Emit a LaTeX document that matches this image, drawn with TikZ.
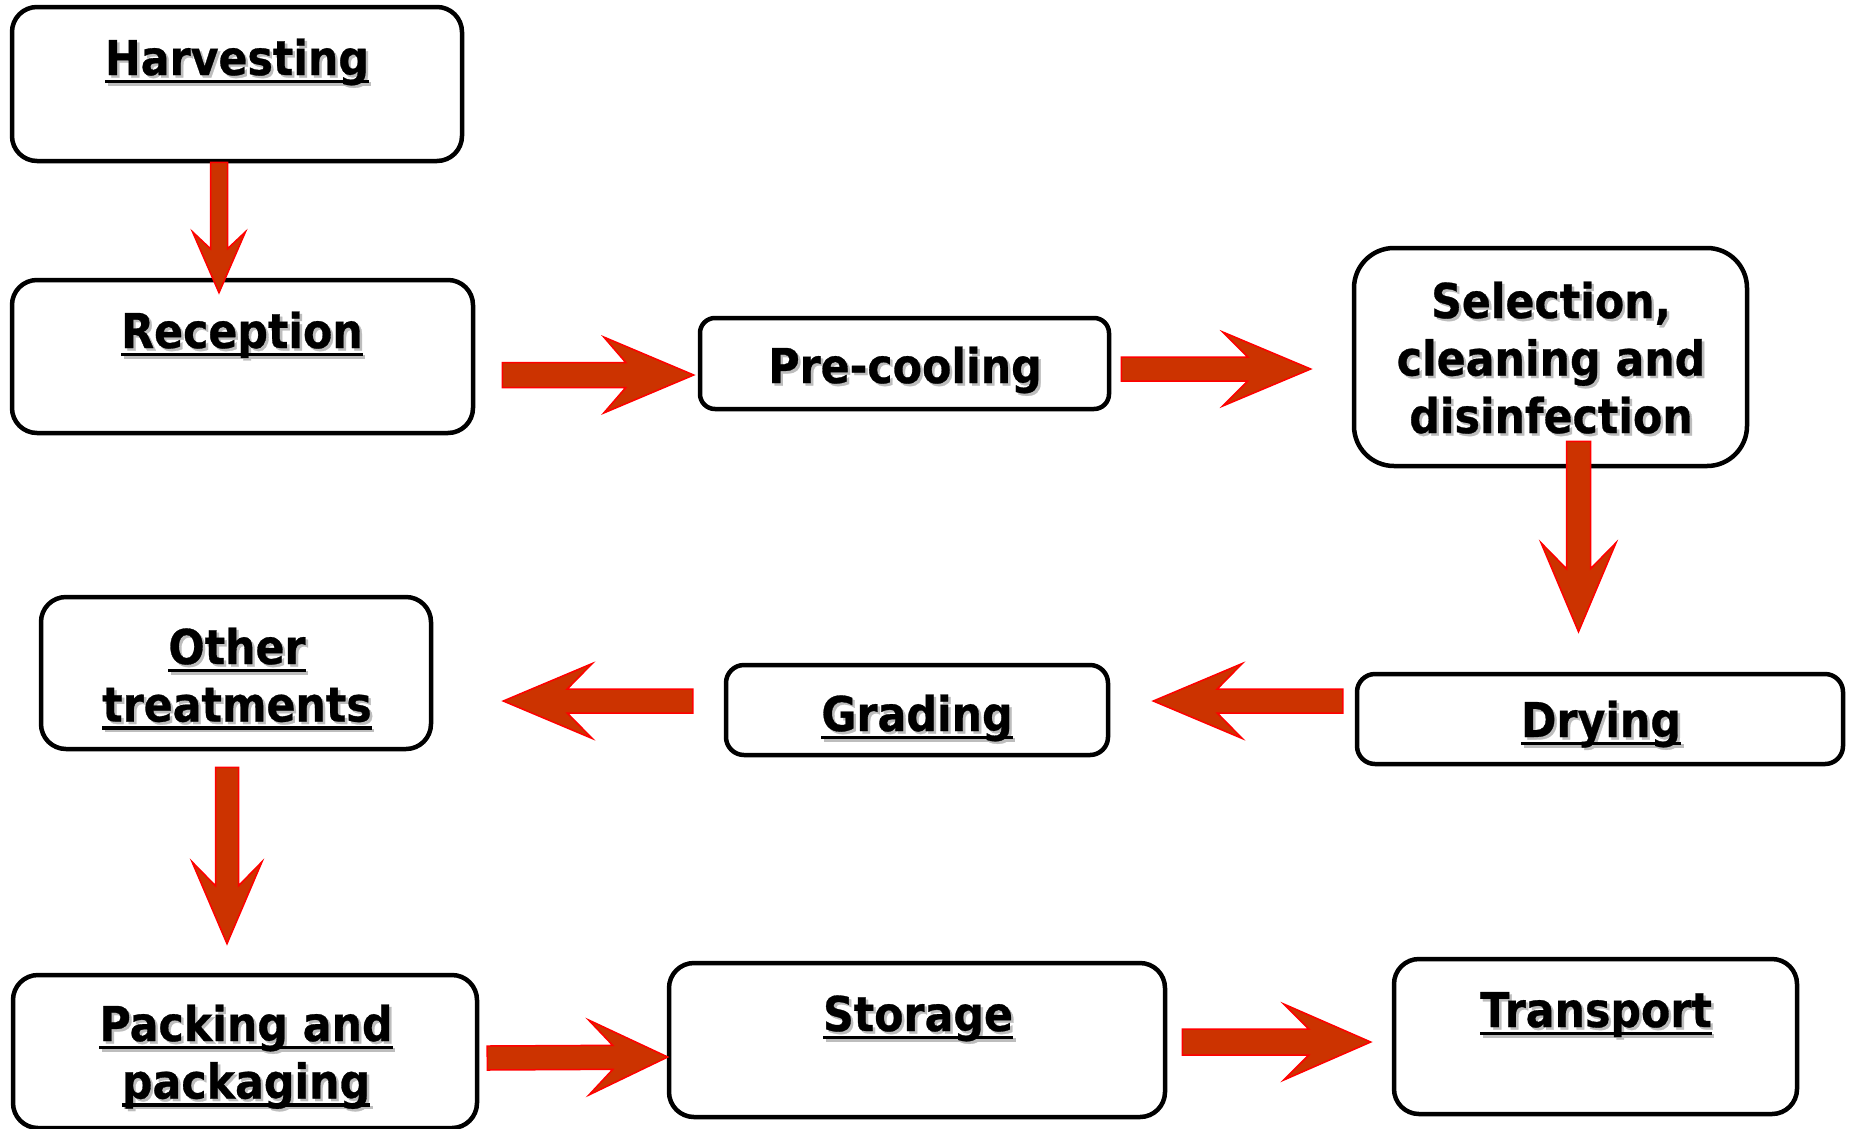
\documentclass[tikz,border=0pt]{standalone}
\usepackage{fontspec}
\newfontfamily\boxfont{DejaVu Sans}[FakeStretch=0.89,FakeBold=0.6]
\usetikzlibrary{calc}
\definecolor{arrowfill}{HTML}{CC3300}
\definecolor{arrowline}{HTML}{FF0000}
\definecolor{shadowgray}{HTML}{BDBDBD}
\newcommand\ulx[1]{\setbox0\hbox{#1}\rlap{\rule[-8pt]{\wd0}{3.5pt}}\box0}
\newcommand\lstrut{\rule[-13pt]{0pt}{51pt}}
\tikzset{
  box/.style={draw=black, line width=4.5pt, fill=white, inner sep=0pt},
  txt/.style={font=\boxfont\bfseries\fontsize{48}{57.5}\selectfont, inner sep=0pt, align=center, text=black},
  blockarrow/.style={fill=arrowfill, draw=arrowline, line width=1.5pt, line join=miter},
}
% #1 name, #2 anchor, #3 position, #4 text
\newcommand\stxt[4]{%
  \coordinate (tmp) at (#3);
  \node[txt, anchor=#2, text=shadowgray] at ([xshift=2.5pt,yshift=-2.5pt]tmp) {#4};
  \node[txt, anchor=#2] (#1) at (tmp) {#4};}
% #1 start, #2 tip, #3 shaft half width, #4 head half width, #5 tip-to-barb, #6 tip-to-notch
\newcommand\barrow[6]{%
  \coordinate (bS) at (#1);
  \coordinate (bE) at (#2);
  \coordinate (bB) at ($(bE)!#5pt!(bS)$);
  \coordinate (bN) at ($(bE)!#6pt!(bS)$);
  \draw[blockarrow] ($(bS)!#3pt!90:(bE)$) -- ($(bN)!#3pt!90:(bE)$) -- ($(bB)!#4pt!90:(bE)$)
    -- (bE) -- ($(bB)!#4pt!-90:(bE)$) -- ($(bN)!#3pt!-90:(bE)$) -- ($(bS)!#3pt!-90:(bE)$) -- cycle;}
\begin{document}
\begin{tikzpicture}[x=1pt, y=-1pt]
\useasboundingbox (0,0) rectangle (1850,1128);
\fill[white] (0,0) rectangle (1850,1128);
% boxes
\node[box, rounded corners=25pt, minimum width=450pt, minimum height=154pt] (harv) at (237,84) {};
\node[box, rounded corners=25pt, minimum width=461pt, minimum height=153pt] (recep) at (242.5,356.5) {};
\node[box, rounded corners=15pt, minimum width=409pt, minimum height=91pt] (precool) at (904.5,363.5) {};
\node[box, rounded corners=40pt, minimum width=393pt, minimum height=218pt] (sel) at (1550.5,357) {};
\node[box, rounded corners=18pt, minimum width=486pt, minimum height=90pt] (dry) at (1600,719) {};
\node[box, rounded corners=18pt, minimum width=382pt, minimum height=90pt] (grad) at (917,710) {};
\node[box, rounded corners=25pt, minimum width=390pt, minimum height=152pt] (other) at (236,673) {};
\node[box, rounded corners=25pt, minimum width=464pt, minimum height=153pt] (pack) at (245,1051.5) {};
\node[box, rounded corners=25pt, minimum width=496pt, minimum height=154pt] (stor) at (917,1040) {};
\node[box, rounded corners=25pt, minimum width=403pt, minimum height=155pt] (trans) at (1595.5,1036.5) {};
% texts
\stxt{harvT}{base}{237,75}{\ulx{Harvesting}}
\stxt{recepT}{base}{242,348}{\ulx{Reception}}
\stxt{precoolT}{base}{905,383}{Pre-cooling}
\stxt{selT}{center}{1551,363}{Selection,\lstrut\\cleaning and\lstrut\\disinfection\lstrut}
\stxt{dryT}{base}{1601,737}{\ulx{Drying}}
\stxt{gradT}{base}{917,731}{\ulx{Grading}}
\stxt{otherT}{center}{237,680.25}{\ulx{Other}\lstrut\\\ulx{treatments}\lstrut}
\stxt{packT}{center}{246,1057.25}{\ulx{Packing and}\lstrut\\\ulx{packaging}\lstrut}
\stxt{storT}{base}{918,1031}{\ulx{Storage}}
\stxt{transT}{base}{1596,1027}{\ulx{Transport}}
% arrows
\barrow{[xshift=-18pt,yshift=1pt]harv.south}{[xshift=-23.5pt,yshift=-15pt]recep.north}{8.5}{26.5}{61}{44}
\barrow{[xshift=27pt,yshift=-18.5pt]recep.east}{[xshift=-4pt,yshift=-11.5pt]precool.west}{12.5}{38}{90}{68}
\barrow{[xshift=10pt,yshift=-5.5pt]precool.east}{[xshift=-41pt,yshift=-12pt]sel.west}{12}{37}{88}{63}
\barrow{[xshift=28pt,yshift=27pt]sel.south}{[xshift=-21.5pt,yshift=40pt]dry.north}{12}{37.5}{89}{63}
\barrow{[xshift=-12pt,yshift=18pt]dry.west}{[xshift=43pt,yshift=9pt]grad.east}{12}{37.5}{89}{64}
\barrow{[xshift=-31pt,yshift=9pt]grad.west}{[xshift=70pt,yshift=-28pt]other.east}{12}{37.5}{89}{64}
\barrow{[xshift=-9pt,yshift=-16pt]other.south}{[xshift=-18pt,yshift=29pt]pack.north}{11.5}{35}{82}{58}
\barrow{[xshift=8pt,yshift=-6.5pt]pack.east}{[xshift=1pt,yshift=-17pt]stor.west}{12}{37.5}{79}{55}
\barrow{[xshift=15pt,yshift=-2pt]stor.east}{[xshift=-21pt,yshift=-5.5pt]trans.west}{13}{38}{87}{62}
\end{tikzpicture}
\end{document}
